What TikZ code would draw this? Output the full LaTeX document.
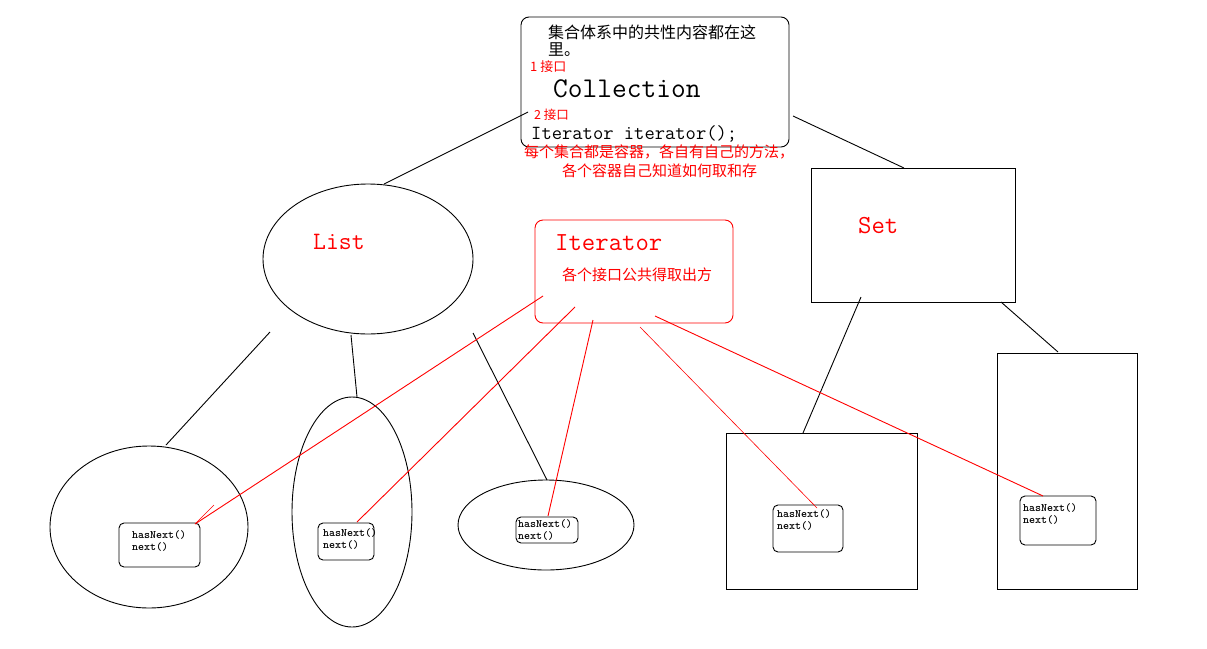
\documentclass[tikz,border=0pt]{standalone}
\usepackage{fontspec}
\newfontfamily\cjk{Noto Sans CJK SC}
\begin{document}
\begin{tikzpicture}[x=1pt,y=-1pt,
  blk/.style={draw=black,line width=0.9pt},
  redln/.style={draw=red,line width=0.9pt},
  txt/.style={anchor=west,inner sep=0pt,font=\cjk\fontsize{16}{18}\selectfont},
  rtxt/.style={anchor=west,inner sep=0pt,text=red,font=\cjk\fontsize{15}{17}\selectfont},
  mono/.style={anchor=west,inner sep=0pt,font=\ttfamily\fontsize{#1}{#1}\selectfont},
  small/.style={draw=black,line width=0.9pt,rounded corners=5pt,inner sep=0pt},
  mtxt/.style={anchor=north west,inner sep=0pt,align=left,font=\ttfamily\bfseries\fontsize{11.4}{12}\selectfont}]
\useasboundingbox (0,0) rectangle (1207,648);
\fill[white] (0,0) rectangle (1207,648);

% Collection box
\draw[blk,rounded corners=8pt] (521,17) rectangle (789,147);
\node[txt] (t1) at (548,32) {集合体系中的共性内容都在这};
\node[txt] (t2) at (548,50) {里。};
\node[rtxt,font=\cjk\fontsize{13}{15}\selectfont] (i1) at (530,67) {1 接口};
\node[mono=28.6] (coll) at (553,89) {Collection};
\node[rtxt,font=\cjk\fontsize{12.5}{14}\selectfont] (i2) at (534,115) {2 接口};
\node[mono=20] (itm) at (531,134) {Iterator iterator();};
\node[rtxt] (r1) at (524,151.5) {每个集合都是容器，各自有自己的方法，};
\node[rtxt] (r2) at (562,170.5) {各个容器自己知道如何取和存};

% List
\draw[blk] (368,259) ellipse [x radius=105,y radius=75];
\node[mono=25,text=red] (list) at (313,242) {List};

% Iterator box
\draw[redln,rounded corners=8pt] (535,220) rectangle (733,323);
\node[mono=26,text=red] (iter) at (555,243) {Iterator};
\node[rtxt] (r3) at (562,275) {各个接口公共得取出方};

% Set
\draw[blk] (811,168) rectangle (1015,302);
\node[mono=26,text=red] (set) at (858,226) {Set};

% lower shapes
\draw[blk] (149,527) ellipse [x radius=99,y radius=81];
\draw[blk] (352,512) ellipse [x radius=60,y radius=115];
\draw[blk] (546,525) ellipse [x radius=88,y radius=45];
\draw[blk] (726,433) rectangle (917,589);
\draw[blk] (997,353) rectangle (1137,589);

% small boxes
\draw[small] (119,523) rectangle (200,567);
\node[mtxt] (m1) at (132,530) {hasNext()\\next()};
\draw[small] (318,523) rectangle (374,560);
\node[mtxt] (m2) at (323,528) {hasNext()\\next()};
\draw[small] (516,517) rectangle (578,543);
\node[mtxt] (m3) at (518,519) {hasNext()\\next()};
\draw[small] (773,505) rectangle (843,552);
\node[mtxt] (m4) at (777,509) {hasNext()\\next()};
\draw[small] (1020,496) rectangle (1096,545);
\node[mtxt] (m5) at (1023,503) {hasNext()\\next()};

% connector endpoints
\coordinate (c1) at (528,112); \coordinate (l0) at (384,184);
\coordinate (c2) at (793,116); \coordinate (s0) at (904,168);
\coordinate (la) at (270,332); \coordinate (e1) at (166,445);
\coordinate (lb) at (351,335); \coordinate (e2) at (357,397);
\coordinate (lc) at (473,333); \coordinate (e3) at (547,480);
\coordinate (sa) at (861,297); \coordinate (r4) at (803,433);
\coordinate (sb) at (1001,302); \coordinate (r5) at (1058,352);
\draw[blk] (c1) -- (l0);
\draw[blk] (c2) -- (s0);
\draw[blk] (la) -- (e1);
\draw[blk] (lb) -- (e2);
\draw[blk] (lc) -- (e3);
\draw[blk] (sa) -- (r4);
\draw[blk] (sb) -- (r5);

% red iterator connectors
\coordinate (ia) at (543,296); \coordinate (b1) at (195,524); \coordinate (b1h) at (214,505);
\coordinate (ib) at (575,307); \coordinate (b2) at (357,522);
\coordinate (ic) at (593,320); \coordinate (b3) at (548,516);
\coordinate (id) at (640,327); \coordinate (b4) at (817,508);
\coordinate (ie) at (655,316); \coordinate (b5) at (1043,496);
\draw[redln] (ia) -- (b1);
\draw[redln,line width=0.6pt] (b1) -- (b1h);
\draw[redln] (ib) -- (b2);
\draw[redln] (ic) -- (b3);
\draw[redln,line width=0.6pt] (id) -- (b4);
\draw[redln] (ie) -- (b5);
\end{tikzpicture}
\end{document}
